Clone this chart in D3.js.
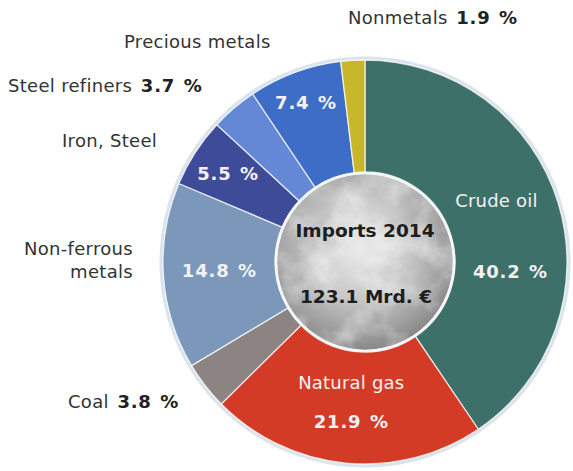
<!DOCTYPE html>
<html>
<head>
<meta charset="utf-8">
<script src="https://cdn.jsdelivr.net/npm/d3@7/dist/d3.min.js"></script>
<style>
  html, body { margin: 0; padding: 0; background: #ffffff; }
  svg { display: block; }
  text { font-family: "DejaVu Sans", Verdana, sans-serif; }
</style>
</head>
<body>
<svg id="chart" width="573" height="471"></svg>
<script>
// Import shares by commodity group, 2014 (percent of total)
const categories = ["Crude oil", "Natural gas", "Coal", "Non-ferrous metals",
                    "Iron, Steel", "Steel refiners", "Precious metals", "Nonmetals"];
const shares = [40.2, 21.9, 3.8, 14.8, 5.5, 3.7, 7.4, 1.9];
const sliceColors = ["#3e706a", "#d43b27", "#8b8482", "#7b97ba",
                     "#3e4b98", "#6588d6", "#3e6dc8", "#c9b72b"];
const centerTitle = "Imports 2014";
const centerTotal = "123.1 Mrd. €";

const svg = d3.select("#chart");
const cx = 365, cy = 262;
const rOuter = 202, rInner = 90, rSphere = 88;

const data = categories.map((c, i) => ({ name: c, value: shares[i], color: sliceColors[i] }));
const fmt = v => d3.format(".1f")(v) + " %";

const pie = d3.pie().value(d => d.value).sort(null);
const arcs = pie(data);
const arc = d3.arc().innerRadius(rInner).outerRadius(rOuter);

const defs = svg.append("defs");

// sphere shading
const sg = defs.append("radialGradient").attr("id", "sphereGrad")
  .attr("cx", "47%").attr("cy", "42%").attr("r", "62%");
sg.append("stop").attr("offset", "0%").attr("stop-color", "#ececec");
sg.append("stop").attr("offset", "45%").attr("stop-color", "#c9c9c9");
sg.append("stop").attr("offset", "80%").attr("stop-color", "#9d9d9d");
sg.append("stop").attr("offset", "100%").attr("stop-color", "#7e7e7e");

// cloudy texture on the sphere: light and dark patches
function cloudFilter(id, seed, rgb, a, b) {
  const f = defs.append("filter").attr("id", id)
    .attr("x", "0").attr("y", "0").attr("width", "1").attr("height", "1");
  f.append("feTurbulence").attr("type", "fractalNoise")
    .attr("baseFrequency", "0.03").attr("numOctaves", "4").attr("seed", seed).attr("result", "noise");
  f.append("feColorMatrix").attr("in", "noise").attr("type", "matrix")
    .attr("values", `0 0 0 0 ${rgb}  0 0 0 0 ${rgb}  0 0 0 0 ${rgb}  ${a} 0 0 0 ${b}`);
}
cloudFilter("cloudsLight", 7, 1, 1.8, -0.7);
cloudFilter("cloudsDark", 21, 0.35, 1.6, -0.8);

defs.append("clipPath").attr("id", "sphereClip")
  .append("circle").attr("cx", cx).attr("cy", cy).attr("r", rSphere);

const g = svg.append("g").attr("transform", `translate(${cx},${cy})`);

// soft rim around the ring
g.append("circle").attr("r", rOuter + 1.5)
  .attr("fill", "none").attr("stroke", "#dbe4ec").attr("stroke-width", 4);

g.selectAll("path.slice")
  .data(arcs)
  .join("path")
  .attr("class", "slice")
  .attr("d", arc)
  .attr("fill", d => d.data.color)
  .attr("stroke", "rgba(255,255,255,0.75)")
  .attr("stroke-width", 1.3);

// center sphere
svg.append("circle").attr("cx", cx).attr("cy", cy).attr("r", rSphere)
  .attr("fill", "url(#sphereGrad)");
["cloudsDark", "cloudsLight"].forEach(f => {
  svg.append("rect").attr("x", cx - rSphere).attr("y", cy - rSphere)
    .attr("width", rSphere * 2).attr("height", rSphere * 2)
    .attr("clip-path", "url(#sphereClip)")
    .attr("filter", `url(#${f})`).attr("opacity", 0.6);
});
svg.append("circle").attr("cx", cx).attr("cy", cy).attr("r", rSphere + 1)
  .attr("fill", "none").attr("stroke", "#f4f6f7").attr("stroke-width", 2.6);

svg.append("text").attr("x", cx).attr("y", 237).attr("text-anchor", "middle")
  .attr("font-size", 18.5).attr("font-weight", "bold").attr("fill", "#1e1e1e")
  .text(centerTitle);
svg.append("text").attr("x", cx + 1).attr("y", 303).attr("text-anchor", "middle")
  .attr("font-size", 18.5).attr("font-weight", "bold").attr("fill", "#1e1e1e")
  .text(centerTotal);

// labels inside the ring: placed along each slice's mid-angle
const inside = {
  "Crude oil":          { r: 150, lines: [{ t: "name", dx: -12, dy: -11 }, { t: "value", dx: 2, dy: 60 }] },
  "Natural gas":        { r: 140, lines: [{ t: "name", dx: 0, dy: -12 }, { t: "value", dx: 0, dy: 27 }] },
  "Non-ferrous metals": { r: 146, lines: [{ t: "value", dx: 0, dy: 5 }] },
  "Iron, Steel":        { r: 163, lines: [{ t: "value", dx: 0, dy: 6 }] },
  "Precious metals":    { r: 170, lines: [{ t: "value", dx: 0, dy: 6 }] }
};
arcs.forEach(a => {
  const spec = inside[a.data.name];
  if (!spec) return;
  const mid = (a.startAngle + a.endAngle) / 2;
  const px = cx + spec.r * Math.sin(mid);
  const py = cy - spec.r * Math.cos(mid);
  spec.lines.forEach(l => {
    const isVal = l.t === "value";
    svg.append("text")
      .attr("x", px + l.dx).attr("y", py + l.dy)
      .attr("text-anchor", "middle")
      .attr("font-size", 18)
      .attr("font-weight", isVal ? "bold" : "normal")
      .attr("letter-spacing", isVal ? 0.8 : 0.2)
      .attr("word-spacing", isVal ? 1.5 : 0)
      .attr("fill", "#f2f2f2")
      .text(isVal ? fmt(a.data.value) : a.data.name);
  });
});

// labels outside the ring
const outside = [
  { name: "Nonmetals",       x: 348, y: 24,  anchor: "start", lines: ["Nonmetals"], value: true },
  { name: "Precious metals", x: 124, y: 48,  anchor: "start", lines: ["Precious metals"], value: false },
  { name: "Steel refiners",  x: 8,   y: 92,  anchor: "start", lines: ["Steel refiners"], value: true },
  { name: "Iron, Steel",     x: 62,  y: 147, anchor: "start", lines: ["Iron, Steel"], value: false },
  { name: "Non-ferrous metals", x: 133, y: 255, anchor: "end", lines: ["Non-ferrous", "metals"], value: false },
  { name: "Coal",            x: 68,  y: 408, anchor: "start", lines: ["Coal"], value: true }
];
outside.forEach(o => {
  const v = shares[categories.indexOf(o.name)];
  o.lines.forEach((ln, i) => {
    const t = svg.append("text")
      .attr("x", o.x).attr("y", o.y + i * 23)
      .attr("text-anchor", o.anchor)
      .attr("font-size", 18).attr("letter-spacing", 0.3).attr("fill", "#333333");
    t.append("tspan").text(ln);
    if (o.value && i === o.lines.length - 1) {
      t.append("tspan").attr("font-weight", "bold").attr("fill", "#222")
        .attr("letter-spacing", 0.8).attr("word-spacing", 1.5)
        .text(" " + fmt(v));
    }
  });
});
</script>
</body>
</html>
